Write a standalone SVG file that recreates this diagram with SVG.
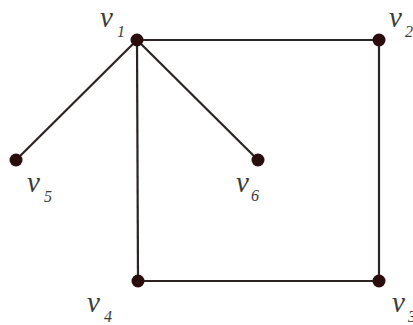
<svg xmlns="http://www.w3.org/2000/svg" width="413" height="325" viewBox="0 0 413 325">
<style>
.edge{stroke:#2a2422;stroke-width:2.2;fill:none}
.node{fill:#2a0d0d}
.lbl{font-family:"Liberation Serif",serif;font-style:italic;fill:#3a3a3a}
.v{font-size:29px}
.s{font-size:16px}
</style>
<rect width="413" height="325" fill="#ffffff"/>
<g id="connectors">
<line class="edge" x1="137" y1="40" x2="379" y2="40"/>
<line class="edge" x1="379" y1="40" x2="379" y2="281"/>
<line class="edge" x1="138" y1="281" x2="379" y2="281"/>
<line class="edge" x1="137" y1="40" x2="138" y2="281"/>
<line class="edge" x1="137" y1="40" x2="16" y2="160"/>
<line class="edge" x1="137" y1="40" x2="258" y2="160"/>
</g>
<g id="v1"><circle class="node" cx="137" cy="40" r="6.5"/><text class="lbl" x="100" y="27"><tspan class="v">v</tspan><tspan class="s" dx="4" dy="10">1</tspan></text></g>
<g id="v2"><circle class="node" cx="379" cy="40" r="6.5"/><text class="lbl" x="389" y="27"><tspan class="v">v</tspan><tspan class="s" dx="3" dy="10">2</tspan></text></g>
<g id="v3"><circle class="node" cx="379" cy="281" r="6.5"/><text class="lbl" x="392" y="312"><tspan class="v">v</tspan><tspan class="s" dx="3" dy="10">3</tspan></text></g>
<g id="v4"><circle class="node" cx="138" cy="281" r="6.5"/><text class="lbl" x="87" y="312"><tspan class="v">v</tspan><tspan class="s" dx="4" dy="10">4</tspan></text></g>
<g id="v5"><circle class="node" cx="16" cy="160" r="6.5"/><text class="lbl" x="27" y="192"><tspan class="v">v</tspan><tspan class="s" dx="4" dy="10">5</tspan></text></g>
<g id="v6"><circle class="node" cx="258" cy="160" r="6.5"/><text class="lbl" x="236" y="192"><tspan class="v">v</tspan><tspan class="s" dx="2" dy="9">6</tspan></text></g>
</svg>
